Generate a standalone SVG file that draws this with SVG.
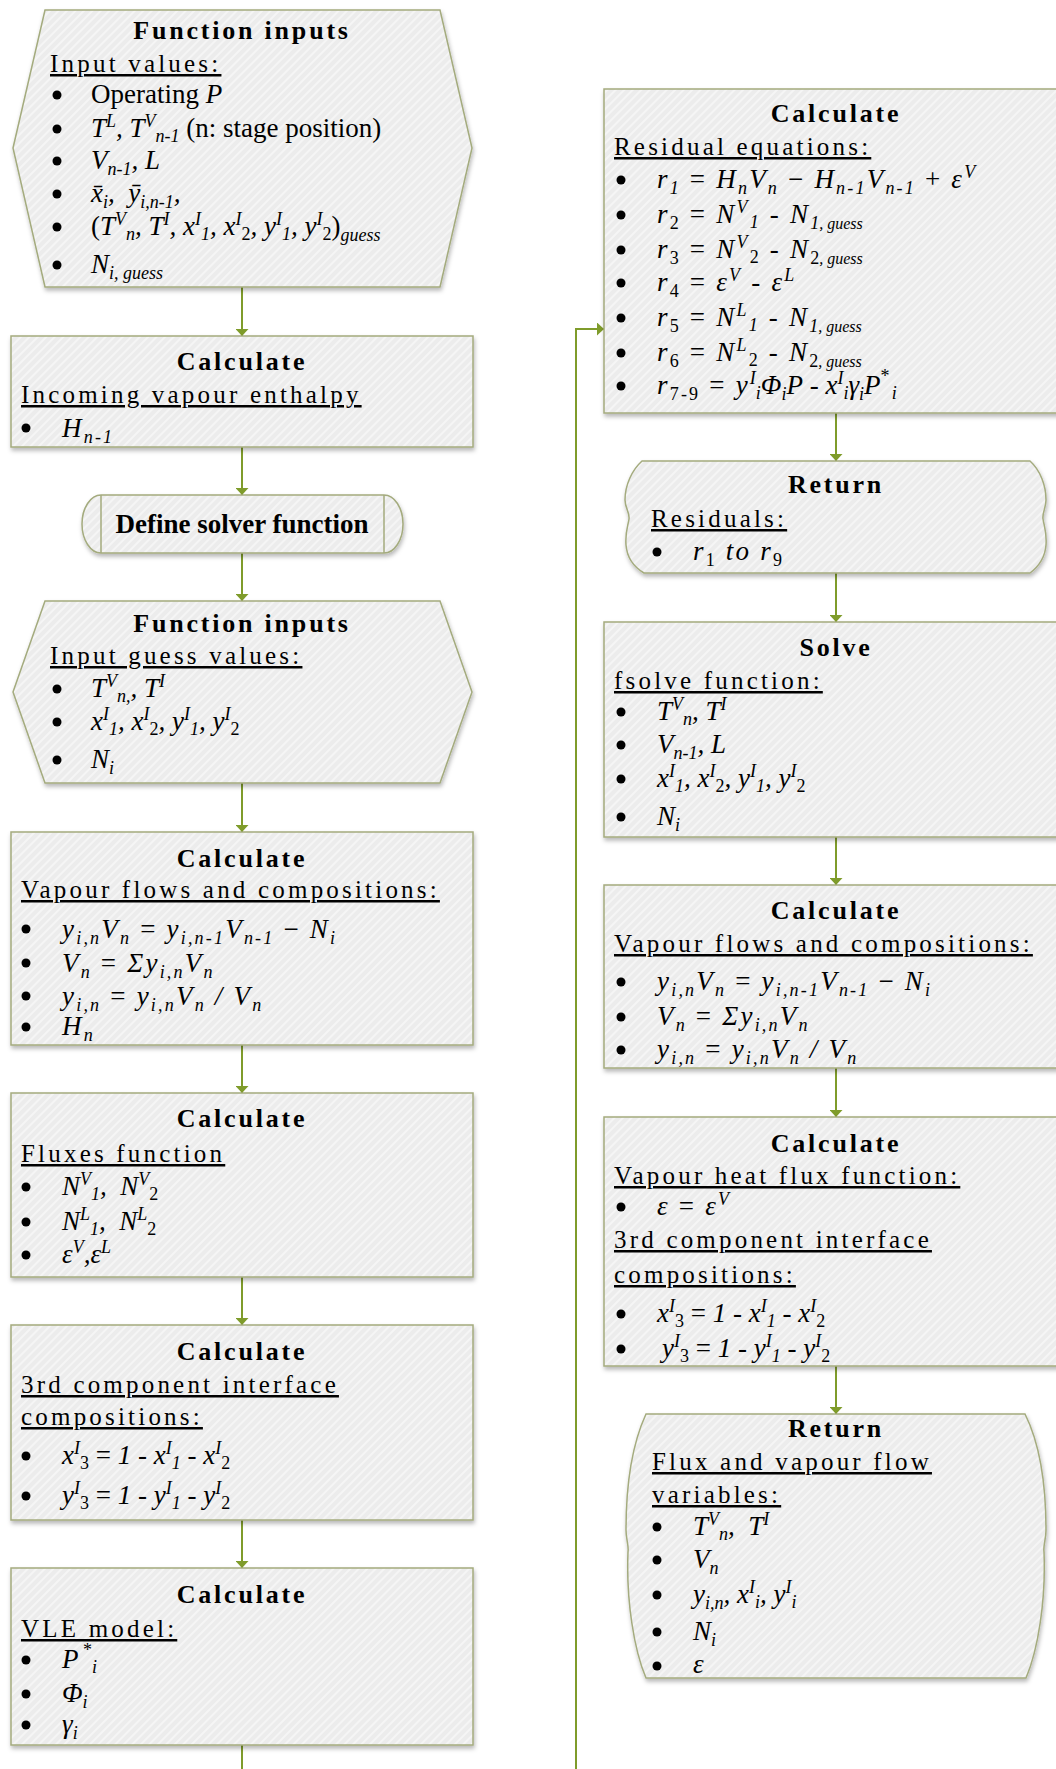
<svg xmlns="http://www.w3.org/2000/svg" width="1056" height="1769" viewBox="0 0 1056 1769">
  <defs>
    <pattern id="hatch" width="6" height="6" patternUnits="userSpaceOnUse" patternTransform="rotate(45)">
      <rect width="6" height="6" fill="#ececec"/>
      <rect width="2" height="6" fill="#f5f5f5"/>
    </pattern>
    <filter id="sh" x="-5%" y="-5%" width="112%" height="125%">
      <feDropShadow dx="1" dy="3" stdDeviation="2" flood-color="#000" flood-opacity="0.28"/>
    </filter>
    <marker id="ah" viewBox="0 0 7 13" refX="7" refY="6.5" markerWidth="7" markerHeight="13" markerUnits="userSpaceOnUse" orient="auto">
      <path d="M0,0 L7,6.5 L0,13 z" fill="#7f9c2b"/>
    </marker>
    <style>
      .box { fill: url(#hatch); stroke: #a4ab7e; stroke-width: 1.5; filter: url(#sh); }
      .ln { fill: none; stroke: #a4ab7e; stroke-width: 1.5; }
      .con { fill: none; stroke: #7f9c2b; stroke-width: 2; marker-end: url(#ah); }
      .f { font-family: "Liberation Serif", "Times New Roman", serif; fill: #000; }
      .ttl { font-size: 26px; font-weight: bold; letter-spacing: 2.8px; text-anchor: middle; }
      .hd { font-size: 25px; letter-spacing: 3.2px; text-decoration: underline; }
      .it { font-size: 27px; font-style: italic; }
      .ls { letter-spacing: 2.2px; }
      .sc { font-size: 18px; }
      .nl { letter-spacing: 0; }
      .gs { font-size: 16px; letter-spacing: 0; }
      .rm { font-style: normal; }
      .bl { fill: #000; }
    </style>
  </defs>
  <rect width="1056" height="1769" fill="#fff"/>

  <!-- connectors -->
  <g id="connectors">
    <path class="con" d="M242,287 V336"/>
    <path class="con" d="M242,447 V495"/>
    <path class="con" d="M242,553 V601"/>
    <path class="con" d="M242,783 V832"/>
    <path class="con" d="M242,1045 V1093"/>
    <path class="con" d="M242,1277 V1325"/>
    <path class="con" d="M242,1520 V1568"/>
    <path class="con" d="M242,1745 V1790 H576 V329 H604"/>
    <path class="con" d="M836,413 V461"/>
    <path class="con" d="M836,573 V622"/>
    <path class="con" d="M836,837 V885"/>
    <path class="con" d="M836,1068 V1117"/>
    <path class="con" d="M836,1366 V1414"/>
  </g>

  <!-- function inputs -->
  <g id="n1">
    <path class="box" d="M45,10 H440 L472,148 L440,287 H45 L13,148 Z"/>
    <text class="f ttl" x="242" y="39">Function inputs</text>
    <text class="f hd" x="50" y="72">Input values:</text>
    <circle class="bl" cx="57" cy="95" r="4.5"/>
    <circle class="bl" cx="57" cy="129" r="4.5"/>
    <circle class="bl" cx="57" cy="161" r="4.5"/>
    <circle class="bl" cx="57" cy="194" r="4.5"/>
    <circle class="bl" cx="57" cy="227" r="4.5"/>
    <circle class="bl" cx="57" cy="265" r="4.5"/>
    <text class="f it" x="91" y="103"><tspan class="rm">Operating </tspan>P</text>
    <text class="f it" x="91" y="137">T<tspan class="sc" dy="-10">L</tspan><tspan dy="10">, T</tspan><tspan class="sc" dy="-10">V</tspan><tspan class="sc" dy="15">n-1</tspan><tspan class="rm" dy="-5"> (n: stage position)</tspan></text>
    <text class="f it" x="91" y="169">V<tspan class="sc" dy="6">n-1</tspan><tspan dy="-6">, L</tspan></text>
    <text class="f it" x="91" y="202">x̄<tspan class="sc" dy="6">i</tspan><tspan dy="-6">,&#160; ȳ</tspan><tspan class="sc" dy="6">i,n-1</tspan><tspan dy="-6">,</tspan></text>
    <text class="f it" x="91" y="235"><tspan class="rm">(</tspan>T<tspan class="sc" dy="-10">V</tspan><tspan class="sc" dy="15">n</tspan><tspan dy="-5">, T</tspan><tspan class="sc" dy="-10">I</tspan><tspan dy="10">, x</tspan><tspan class="sc" dy="-10">I</tspan><tspan class="sc" dy="15">1</tspan><tspan dy="-5">, x</tspan><tspan class="sc" dy="-10">I</tspan><tspan class="sc rm" dy="15">2</tspan><tspan dy="-5">, y</tspan><tspan class="sc" dy="-10">I</tspan><tspan class="sc" dy="15">1</tspan><tspan dy="-5">, y</tspan><tspan class="sc" dy="-10">I</tspan><tspan class="sc rm" dy="15">2</tspan><tspan class="rm" dy="-5">)</tspan><tspan class="sc" dy="6">guess</tspan></text>
    <text class="f it" x="91" y="273">N<tspan class="sc" dy="6">i, guess</tspan></text>
  </g>

  <g id="n2">
    <rect class="box" x="11" y="336" width="462" height="111"/>
    <text class="f ttl" x="242" y="370">Calculate</text>
    <text class="f hd" x="21" y="403">Incoming vapour enthalpy</text>
    <circle class="bl" cx="26" cy="428" r="4.5"/>
    <text class="f it ls" x="62" y="437">H<tspan class="sc" dy="6">n-1</tspan></text>
  </g>

  <g id="n3">
    <path class="box" d="M101,495 H384 A19,29 0 0 1 384,553 H101 A19,29 0 0 1 101,495 Z"/>
    <path class="ln" d="M101,495 V553 M384,495 V553"/>
    <text class="f" x="242" y="533" font-size="27" font-weight="bold" text-anchor="middle">Define solver function</text>
  </g>

  <g id="n4">
    <path class="box" d="M45,601 H440 L472,692 L440,783 H45 L13,692 Z"/>
    <text class="f ttl" x="242" y="632">Function inputs</text>
    <text class="f hd" x="50" y="664">Input guess values:</text>
    <circle class="bl" cx="57" cy="689" r="4.5"/>
    <circle class="bl" cx="57" cy="722" r="4.5"/>
    <circle class="bl" cx="57" cy="760" r="4.5"/>
    <text class="f it" x="91" y="697">T<tspan class="sc" dy="-10">V</tspan><tspan class="sc" dy="15">n,</tspan><tspan dy="-5">, T</tspan><tspan class="sc" dy="-10">I</tspan></text>
    <text class="f it" x="91" y="730">x<tspan class="sc" dy="-10">I</tspan><tspan class="sc" dy="15">1</tspan><tspan dy="-5">, x</tspan><tspan class="sc" dy="-10">I</tspan><tspan class="sc rm" dy="15">2</tspan><tspan dy="-5">, y</tspan><tspan class="sc" dy="-10">I</tspan><tspan class="sc" dy="15">1</tspan><tspan dy="-5">, y</tspan><tspan class="sc" dy="-10">I</tspan><tspan class="sc rm" dy="15">2</tspan></text>
    <text class="f it" x="91" y="768">N<tspan class="sc" dy="6">i</tspan></text>
  </g>

  <g id="n5">
    <rect class="box" x="11" y="832" width="462" height="213"/>
    <text class="f ttl" x="242" y="867">Calculate</text>
    <text class="f hd" x="21" y="898">Vapour flows and compositions:</text>
    <circle class="bl" cx="26" cy="929" r="4.5"/>
    <circle class="bl" cx="26" cy="963" r="4.5"/>
    <circle class="bl" cx="26" cy="996" r="4.5"/>
    <circle class="bl" cx="26" cy="1027" r="4.5"/>
    <text class="f it ls" x="62" y="938">y<tspan class="sc" dy="6">i,n</tspan><tspan dy="-6">V</tspan><tspan class="sc" dy="6">n</tspan><tspan class="rm" dy="-6"> = </tspan>y<tspan class="sc" dy="6">i,n-1</tspan><tspan dy="-6">V</tspan><tspan class="sc" dy="6">n-1</tspan><tspan class="rm" dy="-6"> − </tspan>N<tspan class="sc" dy="6">i</tspan></text>
    <text class="f it ls" x="62" y="972">V<tspan class="sc" dy="6">n</tspan><tspan class="rm" dy="-6"> = </tspan>Σy<tspan class="sc" dy="6">i,n</tspan><tspan dy="-6">V</tspan><tspan class="sc" dy="6">n</tspan></text>
    <text class="f it ls" x="62" y="1005">y<tspan class="sc" dy="6">i,n</tspan><tspan class="rm" dy="-6"> = </tspan>y<tspan class="sc" dy="6">i,n</tspan><tspan dy="-6">V</tspan><tspan class="sc" dy="6">n</tspan><tspan dy="-6"> / V</tspan><tspan class="sc" dy="6">n</tspan></text>
    <text class="f it ls" x="62" y="1035">H<tspan class="sc" dy="6">n</tspan></text>
  </g>

  <g id="n6">
    <rect class="box" x="11" y="1093" width="462" height="184"/>
    <text class="f ttl" x="242" y="1127">Calculate</text>
    <text class="f hd" x="21" y="1162">Fluxes function</text>
    <circle class="bl" cx="26" cy="1187" r="4.5"/>
    <circle class="bl" cx="26" cy="1222" r="4.5"/>
    <circle class="bl" cx="26" cy="1255" r="4.5"/>
    <text class="f it" x="62" y="1195">N<tspan class="sc" dy="-10">V</tspan><tspan class="sc" dy="15">1</tspan><tspan dy="-5">,&#160; N</tspan><tspan class="sc" dy="-10">V</tspan><tspan class="sc rm" dy="15">2</tspan></text>
    <text class="f it" x="62" y="1230">N<tspan class="sc" dy="-10">L</tspan><tspan class="sc" dy="15">1</tspan><tspan dy="-5">,&#160; N</tspan><tspan class="sc" dy="-10">L</tspan><tspan class="sc rm" dy="15">2</tspan></text>
    <text class="f it" x="62" y="1263">ε<tspan class="sc" dy="-10">V</tspan><tspan dy="10">,ε</tspan><tspan class="sc" dy="-10">L</tspan></text>
  </g>

  <g id="n7">
    <rect class="box" x="11" y="1325" width="462" height="195"/>
    <text class="f ttl" x="242" y="1360">Calculate</text>
    <text class="f hd" x="21" y="1393">3rd component interface</text>
    <text class="f hd" x="21" y="1425">compositions:</text>
    <circle class="bl" cx="26" cy="1456" r="4.5"/>
    <circle class="bl" cx="26" cy="1496" r="4.5"/>
    <text class="f it" x="62" y="1464">x<tspan class="sc" dy="-10">I</tspan><tspan class="sc rm" dy="15">3</tspan><tspan class="rm" dy="-5"> = </tspan>1<tspan class="rm"> - </tspan>x<tspan class="sc" dy="-10">I</tspan><tspan class="sc" dy="15">1</tspan><tspan class="rm" dy="-5"> - </tspan>x<tspan class="sc" dy="-10">I</tspan><tspan class="sc rm" dy="15">2</tspan></text>
    <text class="f it" x="62" y="1504">y<tspan class="sc" dy="-10">I</tspan><tspan class="sc rm" dy="15">3</tspan><tspan class="rm" dy="-5"> = </tspan>1<tspan class="rm"> - </tspan>y<tspan class="sc" dy="-10">I</tspan><tspan class="sc" dy="15">1</tspan><tspan class="rm" dy="-5"> - </tspan>y<tspan class="sc" dy="-10">I</tspan><tspan class="sc rm" dy="15">2</tspan></text>
  </g>

  <g id="n8">
    <rect class="box" x="11" y="1568" width="462" height="177"/>
    <text class="f ttl" x="242" y="1603">Calculate</text>
    <text class="f hd" x="21" y="1637">VLE model:</text>
    <circle class="bl" cx="26" cy="1660" r="4.5"/>
    <circle class="bl" cx="26" cy="1694" r="4.5"/>
    <circle class="bl" cx="26" cy="1725" r="4.5"/>
    <text class="f it" x="62" y="1668">P<tspan class="sc rm" dy="-12">&#160;*</tspan><tspan class="sc" dy="17">i</tspan></text>
    <text class="f it" x="62" y="1702">Φ<tspan class="sc" dy="6">i</tspan></text>
    <text class="f it" x="62" y="1733">γ<tspan class="sc" dy="6">i</tspan></text>
  </g>

  <g id="n9">
    <rect class="box" x="604" y="89" width="462" height="324"/>
    <text class="f ttl" x="836" y="122">Calculate</text>
    <text class="f hd" x="614" y="155">Residual equations:</text>
    <circle class="bl" cx="621" cy="180" r="4.5"/>
    <circle class="bl" cx="621" cy="215" r="4.5"/>
    <circle class="bl" cx="621" cy="250" r="4.5"/>
    <circle class="bl" cx="621" cy="283" r="4.5"/>
    <circle class="bl" cx="621" cy="318" r="4.5"/>
    <circle class="bl" cx="621" cy="353" r="4.5"/>
    <circle class="bl" cx="621" cy="386" r="4.5"/>
    <text class="f it ls" x="657" y="188">r<tspan class="sc" dy="6">1</tspan><tspan class="rm" dy="-6"> = </tspan>H<tspan class="sc" dy="6">n</tspan><tspan dy="-6">V</tspan><tspan class="sc" dy="6">n</tspan><tspan class="rm" dy="-6"> − </tspan>H<tspan class="sc" dy="6">n-1</tspan><tspan dy="-6">V</tspan><tspan class="sc" dy="6">n-1</tspan><tspan class="rm" dy="-6"> + </tspan>ε<tspan class="sc" dy="-10">V</tspan></text>
    <text class="f it ls" x="657" y="223">r<tspan class="sc rm" dy="6">2</tspan><tspan class="rm" dy="-6"> = </tspan>N<tspan class="sc" dy="-10">V</tspan><tspan class="sc" dy="15">1</tspan><tspan class="rm" dy="-5"> - </tspan>N<tspan class="gs" dy="6"><tspan class="sc">1</tspan>, guess</tspan></text>
    <text class="f it ls" x="657" y="258">r<tspan class="sc rm" dy="6">3</tspan><tspan class="rm" dy="-6"> = </tspan>N<tspan class="sc" dy="-10">V</tspan><tspan class="sc rm" dy="15">2</tspan><tspan class="rm" dy="-5"> - </tspan>N<tspan class="gs" dy="6"><tspan class="sc rm">2</tspan>, guess</tspan></text>
    <text class="f it ls" x="657" y="291">r<tspan class="sc rm" dy="6">4</tspan><tspan class="rm" dy="-6"> = </tspan>ε<tspan class="sc" dy="-10">V</tspan><tspan class="rm" dy="10"> - </tspan>ε<tspan class="sc" dy="-10">L</tspan></text>
    <text class="f it ls" x="657" y="326">r<tspan class="sc rm" dy="6">5</tspan><tspan class="rm" dy="-6"> = </tspan>N<tspan class="sc" dy="-10">L</tspan><tspan class="sc" dy="15">1</tspan><tspan class="rm" dy="-5"> - </tspan>N<tspan class="gs" dy="6"><tspan class="sc">1</tspan>, guess</tspan></text>
    <text class="f it ls" x="657" y="361">r<tspan class="sc rm" dy="6">6</tspan><tspan class="rm" dy="-6"> = </tspan>N<tspan class="sc" dy="-10">L</tspan><tspan class="sc rm" dy="15">2</tspan><tspan class="rm" dy="-5"> - </tspan>N<tspan class="gs" dy="6"><tspan class="sc rm">2</tspan>, guess</tspan></text>
    <text class="f it ls" x="657" y="394">r<tspan class="sc rm" dy="6">7-9</tspan><tspan class="rm" dy="-6"> = </tspan>y<tspan class="sc nl" dy="-10">I</tspan><tspan class="sc nl" dy="15">i</tspan><tspan class="nl" dy="-5">Φ</tspan><tspan class="sc nl" dy="6">i</tspan><tspan class="nl" dy="-6">P</tspan><tspan class="rm nl"> - </tspan><tspan class="nl">x</tspan><tspan class="sc nl" dy="-10">I</tspan><tspan class="sc nl" dy="15">i</tspan><tspan class="nl" dy="-5">γ</tspan><tspan class="sc nl" dy="6">i</tspan><tspan class="nl" dy="-6">P</tspan><tspan class="sc rm" dy="-12">*</tspan><tspan class="sc" dy="17">i</tspan></text>
  </g>

  <g id="n10">
    <path class="box" d="M642,461 H1030 C1040,470 1046,485 1046,500 C1046,508 1042,513 1043,519 C1044,526 1047,532 1046,545 C1045,558 1038,567 1030,573 H644 C634,567 627,558 626,545 C625,532 628,526 629,519 C630,513 625,508 625,500 C625,485 632,470 642,461 Z"/>
    <text class="f ttl" x="836" y="493">Return</text>
    <text class="f hd" x="651" y="527">Residuals:</text>
    <circle class="bl" cx="657" cy="552" r="4.5"/>
    <text class="f it ls" x="693" y="560">r<tspan class="sc rm" dy="6">1</tspan><tspan dy="-6"> to r</tspan><tspan class="sc rm" dy="6">9</tspan></text>
  </g>

  <g id="n11">
    <rect class="box" x="604" y="622" width="462" height="215"/>
    <text class="f ttl" x="836" y="656">Solve</text>
    <text class="f hd" x="614" y="689">fsolve function:</text>
    <circle class="bl" cx="621" cy="712" r="4.5"/>
    <circle class="bl" cx="621" cy="745" r="4.5"/>
    <circle class="bl" cx="621" cy="779" r="4.5"/>
    <circle class="bl" cx="621" cy="817" r="4.5"/>
    <text class="f it" x="657" y="720">T<tspan class="sc" dy="-10">V</tspan><tspan class="sc" dy="15">n</tspan><tspan dy="-5">, T</tspan><tspan class="sc" dy="-10">I</tspan></text>
    <text class="f it" x="657" y="753">V<tspan class="sc" dy="6">n-1</tspan><tspan dy="-6">, L</tspan></text>
    <text class="f it" x="657" y="787">x<tspan class="sc" dy="-10">I</tspan><tspan class="sc" dy="15">1</tspan><tspan dy="-5">, x</tspan><tspan class="sc" dy="-10">I</tspan><tspan class="sc rm" dy="15">2</tspan><tspan dy="-5">, y</tspan><tspan class="sc" dy="-10">I</tspan><tspan class="sc" dy="15">1</tspan><tspan dy="-5">, y</tspan><tspan class="sc" dy="-10">I</tspan><tspan class="sc rm" dy="15">2</tspan></text>
    <text class="f it" x="657" y="825">N<tspan class="sc" dy="6">i</tspan></text>
  </g>

  <g id="n12">
    <rect class="box" x="604" y="885" width="462" height="183"/>
    <text class="f ttl" x="836" y="919">Calculate</text>
    <text class="f hd" x="614" y="952">Vapour flows and compositions:</text>
    <circle class="bl" cx="621" cy="982" r="4.5"/>
    <circle class="bl" cx="621" cy="1017" r="4.5"/>
    <circle class="bl" cx="621" cy="1050" r="4.5"/>
    <text class="f it ls" x="657" y="990">y<tspan class="sc" dy="6">i,n</tspan><tspan dy="-6">V</tspan><tspan class="sc" dy="6">n</tspan><tspan class="rm" dy="-6"> = </tspan>y<tspan class="sc" dy="6">i,n-1</tspan><tspan dy="-6">V</tspan><tspan class="sc" dy="6">n-1</tspan><tspan class="rm" dy="-6"> − </tspan>N<tspan class="sc" dy="6">i</tspan></text>
    <text class="f it ls" x="657" y="1025">V<tspan class="sc" dy="6">n</tspan><tspan class="rm" dy="-6"> = </tspan>Σy<tspan class="sc" dy="6">i,n</tspan><tspan dy="-6">V</tspan><tspan class="sc" dy="6">n</tspan></text>
    <text class="f it ls" x="657" y="1058">y<tspan class="sc" dy="6">i,n</tspan><tspan class="rm" dy="-6"> = </tspan>y<tspan class="sc" dy="6">i,n</tspan><tspan dy="-6">V</tspan><tspan class="sc" dy="6">n</tspan><tspan dy="-6"> / V</tspan><tspan class="sc" dy="6">n</tspan></text>
  </g>

  <g id="n13">
    <rect class="box" x="604" y="1117" width="462" height="249"/>
    <text class="f ttl" x="836" y="1152">Calculate</text>
    <text class="f hd" x="614" y="1184">Vapour heat flux function:</text>
    <circle class="bl" cx="621" cy="1207" r="4.5"/>
    <text class="f it ls" x="657" y="1215">ε<tspan class="rm"> = </tspan>ε<tspan class="sc" dy="-10">V</tspan></text>
    <text class="f hd" x="614" y="1248">3rd component interface</text>
    <text class="f hd" x="614" y="1283">compositions:</text>
    <circle class="bl" cx="621" cy="1314" r="4.5"/>
    <circle class="bl" cx="621" cy="1349" r="4.5"/>
    <text class="f it" x="657" y="1322">x<tspan class="sc" dy="-10">I</tspan><tspan class="sc rm" dy="15">3</tspan><tspan class="rm" dy="-5"> = </tspan>1<tspan class="rm"> - </tspan>x<tspan class="sc" dy="-10">I</tspan><tspan class="sc" dy="15">1</tspan><tspan class="rm" dy="-5"> - </tspan>x<tspan class="sc" dy="-10">I</tspan><tspan class="sc rm" dy="15">2</tspan></text>
    <text class="f it" x="662" y="1357">y<tspan class="sc" dy="-10">I</tspan><tspan class="sc rm" dy="15">3</tspan><tspan class="rm" dy="-5"> = </tspan>1<tspan class="rm"> - </tspan>y<tspan class="sc" dy="-10">I</tspan><tspan class="sc" dy="15">1</tspan><tspan class="rm" dy="-5"> - </tspan>y<tspan class="sc" dy="-10">I</tspan><tspan class="sc rm" dy="15">2</tspan></text>
  </g>

  <g id="n14">
    <path class="box" d="M646,1414 H1025 C1038,1440 1046,1480 1046,1530 C1046,1540 1043,1545 1044,1552 C1046,1600 1038,1650 1026,1678 H646 C634,1650 626,1600 628,1552 C629,1545 626,1540 626,1530 C626,1480 634,1440 646,1414 Z"/>
    <text class="f ttl" x="836" y="1437">Return</text>
    <text class="f hd" x="652" y="1470">Flux and vapour flow</text>
    <text class="f hd" x="652" y="1503">variables:</text>
    <circle class="bl" cx="657" cy="1527" r="4.5"/>
    <circle class="bl" cx="657" cy="1560" r="4.5"/>
    <circle class="bl" cx="657" cy="1595" r="4.5"/>
    <circle class="bl" cx="657" cy="1632" r="4.5"/>
    <circle class="bl" cx="657" cy="1666" r="4.5"/>
    <text class="f it" x="693" y="1535">T<tspan class="sc" dy="-10">V</tspan><tspan class="sc" dy="15">n</tspan><tspan dy="-5">,&#160; T</tspan><tspan class="sc" dy="-10">I</tspan></text>
    <text class="f it" x="693" y="1568">V<tspan class="sc" dy="6">n</tspan></text>
    <text class="f it" x="693" y="1603">y<tspan class="sc" dy="6">i,n</tspan><tspan dy="-6">, x</tspan><tspan class="sc" dy="-10">I</tspan><tspan class="sc" dy="15">i</tspan><tspan dy="-5">, y</tspan><tspan class="sc" dy="-10">I</tspan><tspan class="sc" dy="15">i</tspan></text>
    <text class="f it" x="693" y="1640">N<tspan class="sc" dy="6">i</tspan></text>
    <text class="f it" x="693" y="1673">ε</text>
  </g>
</svg>
